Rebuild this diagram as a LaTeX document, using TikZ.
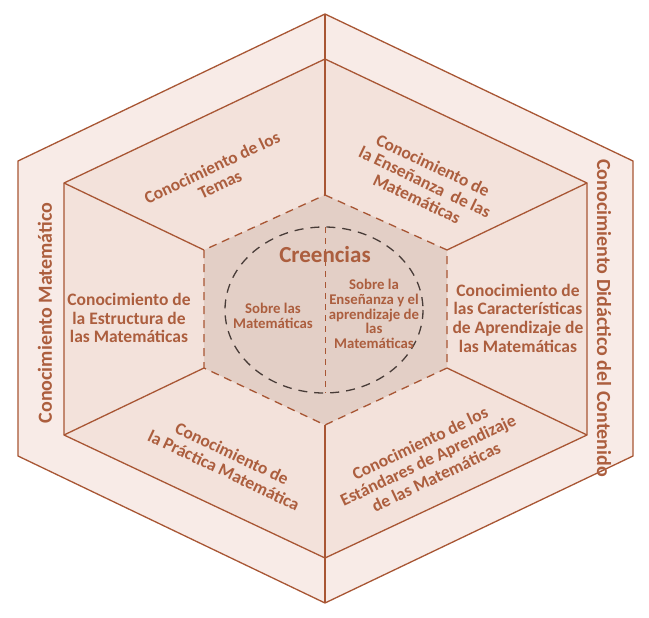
\documentclass[tikz,border=0pt]{standalone}
\usepackage{fontspec}
\setmainfont{Carlito}
\definecolor{hexline}{RGB}{168,86,52}
\definecolor{hextext}{RGB}{172,94,62}
\definecolor{bandfill}{RGB}{248,235,231}
\definecolor{facefill}{RGB}{243,226,219}
\definecolor{corefill}{RGB}{227,207,198}
\definecolor{beliefline}{RGB}{72,60,56}

\begin{document}
\begin{tikzpicture}[
    x=1pt, y=-1pt,
    edgeline/.style={draw=hexline, line width=1.3pt, line join=miter},
    coreline/.style={draw=hexline, line width=1.3pt, dash pattern=on 8pt off 6pt},
    beliefring/.style={draw=beliefline, line width=1.3pt, dash pattern=on 9pt off 7pt},
    facetext/.style={text=hextext, font=\fontsize{17.5}{18.7}\selectfont\bfseries,
        align=center, inner sep=0pt},
    sidetext/.style={text=hextext, font=\fontsize{20}{22}\selectfont\bfseries,
        inner sep=0pt},
    coretext/.style={text=hextext, font=\fontsize{14.8}{14.6}\selectfont\bfseries,
        align=center, inner sep=0pt}
]
\fill[white] (0,0) rectangle (649,618);
\useasboundingbox (0,0) rectangle (649,618);

% Vertices
\coordinate (oT) at (325,14);   \coordinate (oB) at (325,603);
\coordinate (oUL) at (18,161);  \coordinate (oUR) at (633,161);
\coordinate (oLL) at (18,456);  \coordinate (oLR) at (633,456);
\coordinate (iT) at (325,59);   \coordinate (iB) at (325,558);
\coordinate (iUL) at (64,183);  \coordinate (iUR) at (587,183);
\coordinate (iLL) at (64,435);  \coordinate (iLR) at (587,435);
\coordinate (cT) at (325,195);  \coordinate (cB) at (325,425);
\coordinate (cUL) at (204,250); \coordinate (cUR) at (447,250);
\coordinate (cLL) at (204,368); \coordinate (cLR) at (447,368);

% Hexagons
\path[fill=bandfill] (oT) -- (oUR) -- (oLR) -- (oB) -- (oLL) -- (oUL) -- cycle;
\path[fill=facefill] (iT) -- (iUR) -- (iLR) -- (iB) -- (iLL) -- (iUL) -- cycle;
\path[fill=corefill] (cT) -- (cUR) -- (cLR) -- (cB) -- (cLL) -- (cUL) -- cycle;
\draw[edgeline] (oT) -- (oUR) -- (oLR) -- (oB) -- (oLL) -- (oUL) -- cycle;
\draw[edgeline] (iT) -- (iUR) -- (iLR) -- (iB) -- (iLL) -- (iUL) -- cycle;
\draw[coreline] (cT) -- (cUR) -- (cLR) -- (cB) -- (cLL) -- (cUL) -- cycle;

% Spokes
\draw[edgeline] (oT) -- (cT);
\draw[edgeline] (cB) -- (oB);
\draw[edgeline] (iUL) -- (cUL);
\draw[edgeline] (iUR) -- (cUR);
\draw[edgeline] (iLL) -- (cLL);
\draw[edgeline] (iLR) -- (cLR);

% Beliefs
\coordinate (ringc) at (324,310);
\draw[beliefring] (ringc) ellipse [x radius=99, y radius=83];
\coordinate (ringtop) at (325,227);
\coordinate (ringbot) at (325,393);
\draw[coreline, line width=1pt, dash pattern=on 6pt off 5pt] (ringtop) -- (ringbot);

% Labels
\node[sidetext, rotate=90] (matlabel) at (45,313) {Conocimiento Matemático};
\node[sidetext, rotate=-90] (didlabel) at (604,318) {Conocimiento Didáctico del Contenido};
\node[facetext, rotate=25.4] (temas) at (216,176) {Conocimiento de los\\Temas};
\node[facetext, rotate=-25.4] (ensenanza) at (425,182) {Conocimiento de\\la Enseñanza \ de las\\Matemáticas};
\node[facetext] (estructura) at (129,318) {Conocimiento de\\la Estructura de\\las Matemáticas};
\node[facetext] (caracteristicas) at (518,318) {Conocimiento de\\las Características\\de Aprendizaje de\\las Matemáticas};
\node[facetext, rotate=-25.4] (practica) at (228,462) {Conocimiento de\\la Práctica Matemática};
\node[facetext, rotate=25.4] (estandares) at (428,460) {Conocimiento de los\\Estándares de Aprendizaje\\de las Matemáticas};
\node[coretext, font=\fontsize{23}{25}\selectfont\bfseries] (creencias) at (325,255) {Creencias};
\node[coretext] (sobremat) at (273,316) {Sobre las\\Matemáticas};
\node[coretext] (sobreens) at (374,314) {Sobre la\\Enseñanza y el\\aprendizaje de\\las\\Matemáticas};
\end{tikzpicture}
\end{document}
